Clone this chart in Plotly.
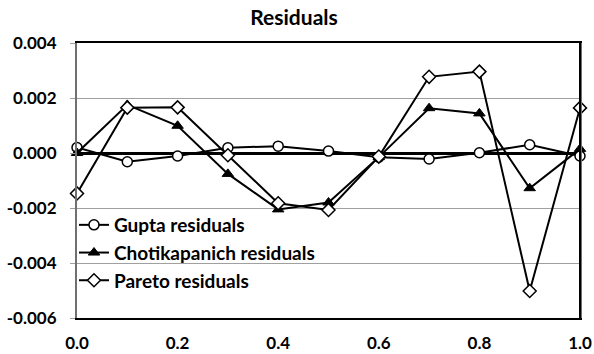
import plotly.graph_objects as go

x_vals = [0.0, 0.1, 0.2, 0.3, 0.4, 0.5, 0.6, 0.7, 0.8, 0.9, 1.0]
gupta = [0.0002, -0.00032, -0.00011, 0.00019, 0.00025, 0.00007, -0.00015, -0.00022, 0.00001, 0.0003, -0.00011]
chotikapanich = [0.0, 0.00175, 0.00099, -0.00076, -0.00205, -0.0018, -0.00015, 0.00163, 0.00144, -0.00128, 0.00015]
pareto = [-0.00147, 0.00165, 0.00166, -0.00008, -0.00183, -0.00207, -0.00013, 0.00277, 0.00296, -0.00502, 0.00164]
series_names = ["Gupta residuals", "Chotikapanich residuals", "Pareto residuals"]
y_ticks = [-0.006, -0.004, -0.002, 0.0, 0.002, 0.004]
x_ticks = [0.0, 0.2, 0.4, 0.6, 0.8, 1.0]

FONT = "Lato"

fig = go.Figure()
fig.add_trace(go.Scatter(x=x_vals, y=gupta, name=f"<b>{series_names[0]}</b>", mode="lines+markers",
                         legendgroup="g1", cliponaxis=False,
                         line=dict(color="black", width=2),
                         marker=dict(symbol="circle", size=10, color="white",
                                     line=dict(color="black", width=1.5))))
fig.add_trace(go.Scatter(x=x_vals, y=chotikapanich, name=f"<b>{series_names[1]}</b>", mode="lines+markers",
                         legendgroup="g2", cliponaxis=False,
                         line=dict(color="black", width=2),
                         marker=dict(symbol="triangle-up", size=10, color="black",
                                     line=dict(color="black", width=1))))
fig.add_trace(go.Scatter(x=x_vals, y=pareto, name=f"<b>{series_names[2]}</b>", mode="lines+markers",
                         legendgroup="g3", cliponaxis=False,
                         line=dict(color="black", width=2),
                         marker=dict(symbol="diamond", size=10, color="white",
                                     line=dict(color="black", width=1.5))))

fig.update_layout(
    width=594, height=354,
    margin=dict(l=77, r=14, t=43, b=36, autoexpand=False),
    paper_bgcolor="white", plot_bgcolor="white",
    title=dict(text="<b>Residuals</b>", x=0.495, xanchor="center",
               yref="container", y=1 - 17.5 / 354, yanchor="middle",
               font=dict(family=FONT, size=21, color="black")),
    font=dict(family=FONT, color="black"),
    legend=dict(x=-0.006, y=(318 - 206) / 275, xanchor="left", yanchor="top",
                bgcolor="rgba(0,0,0,0)", font=dict(family=FONT, size=19, color="black"),
                itemwidth=30, tracegroupgap=0),
    showlegend=True,
    xaxis2=dict(overlaying="x", anchor="free", position=0.6, range=[0, 1],
                tickvals=x_ticks, showticklabels=False, ticks="outside", ticklen=5,
                tickcolor="#808080", showline=False, showgrid=False, zeroline=False),
    shapes=[dict(type="line", xref="paper", yref="paper", x0=1, x1=1, y0=0, y1=1,
                 line=dict(color="black", width=2))],
)
fig.layout.xaxis.update(range=[0, 1], tickvals=x_ticks,
                        ticktext=[f"<b>{v:.1f}</b>" for v in x_ticks],
                        showgrid=False, showline=True, linecolor="black", linewidth=2, mirror=True,
                        zeroline=False, ticks="", ticklabelstandoff=9, automargin=False,
                        tickfont=dict(family=FONT, size=17, color="black"))
fig.layout.yaxis.update(range=[-0.006, 0.004], tickvals=y_ticks,
                        ticktext=[f"<b>{v:.3f}</b>" for v in y_ticks],
                        showgrid=True, gridcolor="#a0a0a0", gridwidth=1,
                        showline=True, linecolor="#707070", linewidth=2, mirror=True,
                        zeroline=True, zerolinecolor="black", zerolinewidth=3,
                        ticks="outside", ticklen=5, tickcolor="#a0a0a0", ticklabelstandoff=10,
                        automargin=False,
                        tickfont=dict(family=FONT, size=17, color="black"))

fig.write_html("out.html", config={"displayModeBar": False},
               post_script="document.body.style.margin='0';document.body.style.padding='0';document.body.style.overflow='hidden';")
